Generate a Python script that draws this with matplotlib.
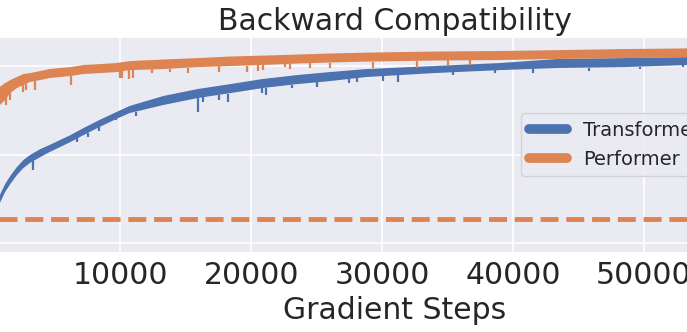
import numpy as np
import matplotlib
matplotlib.use("Agg")
import matplotlib.pyplot as plt
import seaborn as sns

# values (band of the noisy curves, upper / lower edge)
steps = [800, 1200, 1600, 2100, 2600, 3100, 3900, 4600, 5400, 6200, 7200, 8400, 9700,
         10700, 13300, 15900, 18400, 20900, 23500, 26000, 28800, 33900, 39000, 43400,
         48400, 53500]

transformer_hi = [0.271, 0.333, 0.379, 0.429, 0.469, 0.497, 0.531, 0.554, 0.582, 0.610,
                  0.650, 0.695, 0.740, 0.774, 0.831, 0.870, 0.898, 0.927, 0.949, 0.966,
                  0.983, 1.000, 1.017, 1.040, 1.045, 1.051]
transformer_lo = [0.226, 0.288, 0.333, 0.384, 0.424, 0.452, 0.486, 0.514, 0.542, 0.571,
                  0.610, 0.655, 0.701, 0.734, 0.780, 0.819, 0.847, 0.876, 0.898, 0.915,
                  0.938, 0.960, 0.977, 0.989, 0.994, 1.006]

performer_hi = [0.883, 0.904, 0.921, 0.938, 0.955, 0.960, 0.972, 0.983, 0.989, 0.994,
                1.006, 1.011, 1.017, 1.028, 1.037, 1.045, 1.054, 1.059, 1.065, 1.071,
                1.076, 1.082, 1.085, 1.090, 1.096, 1.100]
performer_lo = [0.780, 0.808, 0.847, 0.876, 0.893, 0.910, 0.921, 0.932, 0.938, 0.944,
                0.955, 0.960, 0.966, 0.977, 0.983, 0.994, 1.000, 1.006, 1.014, 1.020,
                1.025, 1.031, 1.034, 1.040, 1.045, 1.049]

# the deeper downward spikes
transformer_spike_steps = [3300, 6700, 7500, 8400, 9700, 11200, 15900, 16300, 17500, 18200,
                           20800, 21100, 23100, 25000, 27500, 28100, 30100, 31200, 35400,
                           38600, 41500, 45800, 49700, 53000]
transformer_spike_vals = [0.412, 0.572, 0.601, 0.634, 0.695, 0.715, 0.742, 0.799, 0.808, 0.799,
                          0.846, 0.836, 0.874, 0.883, 0.902, 0.908, 0.915, 0.911, 0.949,
                          0.959, 0.959, 0.973, 0.981, 0.996]

performer_spike_steps = [1300, 1600, 2600, 2800, 3500, 6200, 10000, 10100, 10700, 11000,
                         12400, 13800, 15200, 17500, 19700, 20500, 20900, 22600, 23000,
                         24500, 26000, 29300, 32700, 35000, 36700]
performer_spike_vals = [0.780, 0.808, 0.853, 0.864, 0.864, 0.893, 0.931, 0.932, 0.925, 0.931,
                        0.960, 0.968, 0.959, 0.968, 0.966, 0.973, 0.977, 0.996, 0.983,
                        0.989, 0.987, 0.987, 0.989, 1.002, 1.006]

baseline = 0.134

blue = "#4c72b0"
orange = "#dd8452"

sns.set_theme(style="darkgrid")
plt.rcParams["font.family"] = ["DejaVu Sans"]

fig = plt.figure(figsize=(6.87, 3.32), dpi=100)
ax = fig.add_axes([-0.0154, 0.2389, 1.1808, 0.6506])

for hi, lo, sx, sv, c, name in [
        (transformer_hi, transformer_lo, transformer_spike_steps, transformer_spike_vals, blue, "Transformer"),
        (performer_hi, performer_lo, performer_spike_steps, performer_spike_vals, orange, "Performer")]:
    hi = np.array(hi)
    lo = np.array(lo)
    ax.fill_between(steps, lo, hi, color=c, lw=0)
    ax.plot(steps, (hi + lo) / 2, color=c, lw=1, label=name)
    ax.vlines(sx, sv, np.interp(sx, steps, lo), color=c, lw=1.6)

ax.axhline(baseline, color=orange, ls="--", lw=3.5)

ax.set_xlim(0, 61970)
ax.set_ylim(-0.055, 1.166)
ax.set_xticks([10000, 20000, 30000, 40000, 50000])
ax.set_yticks([0, 0.5, 1.0])
ax.tick_params(labelsize=21.5)
ax.tick_params(axis="x", pad=0)
ax.tick_params(axis="y", labelleft=False)  # y labels fall outside the cropped figure
ax.grid(color="white", lw=1.2)

ax.set_title("Backward Compatibility", fontsize=21.5, pad=4.5)
ax.set_xlabel("Gradient Steps", fontsize=21.5)

leg = ax.legend(loc="center left", bbox_to_anchor=(0.655, 0.5), borderaxespad=0, fontsize=14)
for l in leg.get_lines():
    l.set_linewidth(7)
    l.set_solid_capstyle("round")

fig.savefig("out.png", dpi=100)
